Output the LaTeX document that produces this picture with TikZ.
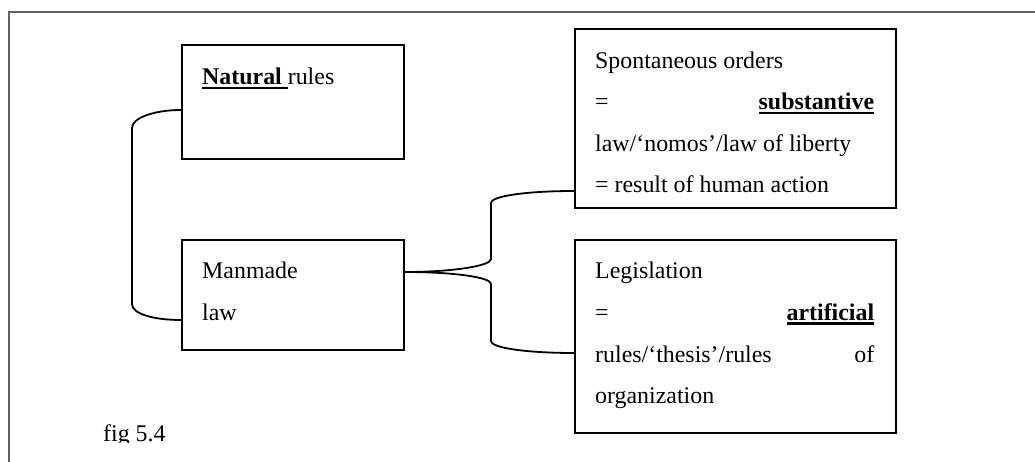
\documentclass[tikz,border=0pt]{standalone}
\usepackage{fontspec}
\setmainfont{Liberation Serif}
\newcommand\myul[1]{\setbox0\hbox{#1}\rlap{\rule[-4.5pt]{\wd0}{2.4pt}}\box0}
\definecolor{framecol}{HTML}{606060}
\begin{document}
\begin{tikzpicture}[x=1pt,y=-1pt,
  box/.style={draw, line width=2pt, inner sep=0pt, anchor=north west},
  txt/.style={anchor=base west, inner sep=0pt, font=\fontsize{23.9pt}{28pt}\selectfont},
  link/.style={line width=1.8pt},
  framestyle/.style={draw=framecol, line width=1.3pt}]
\useasboundingbox (0,0) rectangle (1035,462);
% frame
\draw[framestyle] (9,462) -- (9,12) -- (1035,12);
% boxes
\node[box, minimum width=222pt, minimum height=114pt] (natural) at (181,44) {};
\node[box, minimum width=222pt, minimum height=110pt] (manmade) at (181,239) {};
\node[box, minimum width=321pt, minimum height=179pt] (spont) at (574,28) {};
\node[box, minimum width=321pt, minimum height=193pt] (legis) at (574,239) {};
% texts
\node[txt] (natt) at (202,85) {\myul{\textbf{Natural}\ }rules};
\node[txt] (mm1) at (202,278) {Manmade};
\node[txt] (mm2) at (202,320) {law};
\node[txt] (sp1) at (595,69) {Spontaneous orders};
\node[txt] (sp2) at (595,110) {\hbox to 279pt{=\hfill\myul{\textbf{substantive}}}};
\node[txt] (sp3) at (595,152) {law/‘nomos’/law of liberty};
\node[txt] (sp4) at (595,193) {= result of human action};
\node[txt] (lg1) at (595,278) {Legislation};
\node[txt] (lg2) at (595,320) {\hbox to 279pt{=\hfill\myul{\textbf{artificial}}}};
\node[txt] (lg3) at (595,362) {\hbox to 279pt{rules/‘thesis’/rules\hfill of}};
\node[txt] (lg4) at (595,403) {organization};
\begin{scope}
\clip (0,0) rectangle (1035,442);
\node[txt] (fig) at (103,441) {fig 5.4};
\end{scope}
% connectors
\draw[link] ([yshift=-8pt]natural.west) .. controls +(-27,0) and +(0,-10) .. ++(-49,18)
  -- ++(0,176) .. controls +(0,10) and +(-27,0) .. ([yshift=-25pt]manmade.west);
\draw[link] ([yshift=23pt]manmade.east) .. controls +(47,0) and +(0,7) .. ++(86,-13)
  -- ++(0,-56) .. controls +(0,-7) and +(-47,0) .. ([yshift=-72.5pt]spont.west);
\draw[link] ([yshift=23pt]manmade.east) .. controls +(47,0) and +(0,-7) .. ++(86,12)
  -- ++(0,57) .. controls +(0,7) and +(-47,0) .. ([yshift=-16.5pt]legis.west);
\end{tikzpicture}
\end{document}
